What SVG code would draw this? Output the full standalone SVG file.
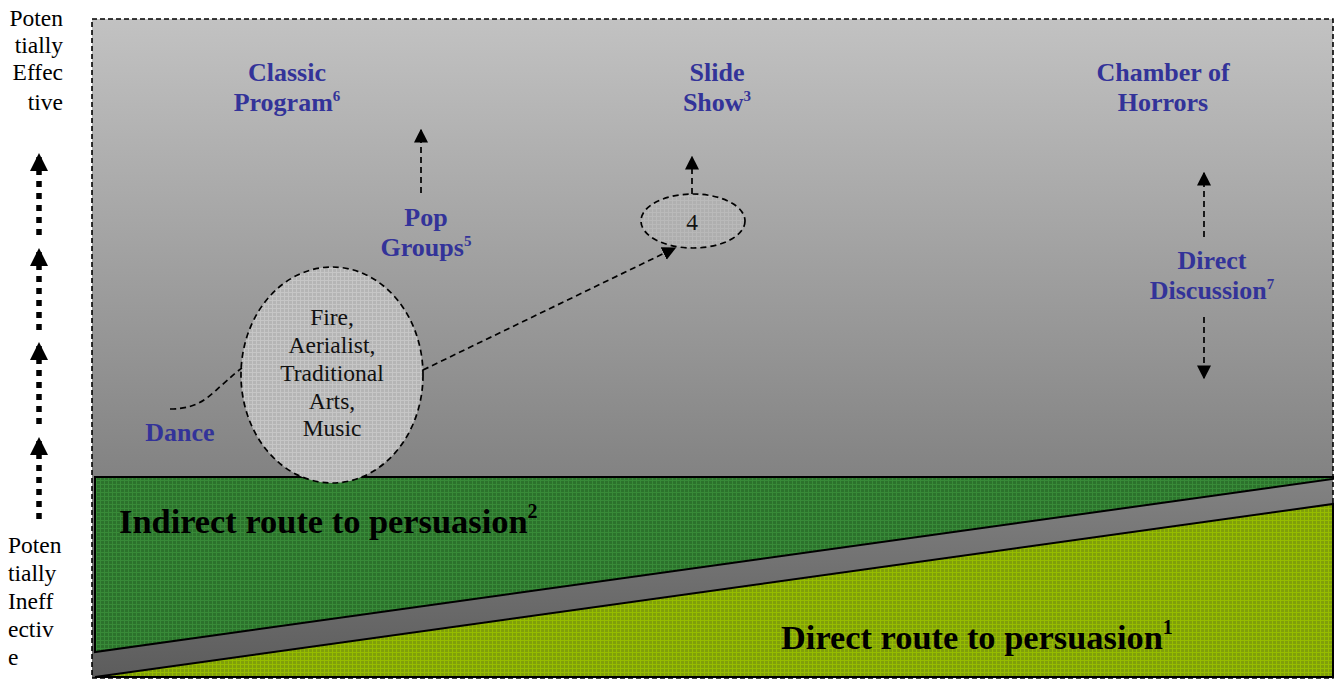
<svg xmlns="http://www.w3.org/2000/svg" width="1337" height="679" viewBox="0 0 1337 679">
<style>
text{font-family:"Liberation Serif","Tinos","DejaVu Serif",serif}
.lbl{font-weight:bold;font-size:26px;fill:#333399;text-anchor:middle}
.side{font-size:23.5px;fill:#000}
.node{font-size:23.5px;fill:#111;text-anchor:middle}
.big{font-weight:bold;font-size:34.4px;fill:#000}
.dash{fill:none;stroke:#000;stroke-width:1.7;stroke-dasharray:6,4}
.dot{fill:none;stroke:#000;stroke-width:5.5;stroke-dasharray:6,6}
</style>
<defs>
<linearGradient id="bg" x1="0" y1="0" x2="0" y2="1">
<stop offset="0" stop-color="#c2c2c2"/>
<stop offset="0.7" stop-color="#828282"/>
<stop offset="1" stop-color="#5c5c5c"/>
</linearGradient>
<pattern id="gridG" width="4" height="4" patternUnits="userSpaceOnUse">
<rect width="4" height="4" fill="#2c722c"/>
<path d="M0 0.5H4M0.5 0V4" stroke="#388a38" stroke-width="1"/>
</pattern>
<pattern id="gridY" width="4" height="4" patternUnits="userSpaceOnUse">
<rect width="4" height="4" fill="#809f0a"/>
<path d="M0 0.5H4M0.5 0V4" stroke="#96bc00" stroke-width="1"/>
</pattern>
<pattern id="gridE" width="4" height="4" patternUnits="userSpaceOnUse">
<rect width="4" height="4" fill="#b5b5b5"/>
<path d="M0 0.5H4M0.5 0V4" stroke="#c6c6c6" stroke-width="1"/>
</pattern>
<marker id="ah2" viewBox="0 0 10 10" refX="9" refY="5" markerWidth="14" markerHeight="16" markerUnits="userSpaceOnUse" orient="auto">
<path d="M0 0L10 5L0 10z" fill="#000"/>
</marker>
<marker id="ah3" viewBox="0 0 10 10" refX="10" refY="5" markerWidth="19" markerHeight="18" markerUnits="userSpaceOnUse" orient="auto">
<path d="M0 0L10 5L0 10z" fill="#000"/>
</marker>
</defs>

<g id="background">
<rect x="92" y="19" width="1241" height="659" fill="url(#bg)"/>
</g>

<g id="indirect-route">
<polygon points="95,477 1333,477 1333,479 95,652" fill="url(#gridG)" stroke="#000" stroke-width="2"/>
<text class="big" x="119" y="533">Indirect route to persuasion<tspan font-size="20" dy="-15">2</tspan></text>
</g>

<g id="direct-route">
<polygon points="95,677 1333,504 1333,677" fill="url(#gridY)" stroke="#000" stroke-width="2"/>
<text class="big" x="781" y="649">Direct route to persuasion<tspan font-size="20" dy="-15">1</tspan></text>
</g>

<g id="frame">
<rect x="92" y="19" width="1241" height="659" fill="none" stroke="#000" stroke-width="1.6" stroke-dasharray="5,3"/>
</g>

<g id="scale-top">
<text class="side" text-anchor="end" x="63" y="26">Poten</text>
<text class="side" text-anchor="end" x="63" y="53">tially</text>
<text class="side" text-anchor="end" x="63" y="80">Effec</text>
<text class="side" text-anchor="end" x="63" y="110">tive</text>
</g>
<g id="scale-bottom">
<text class="side" x="8" y="553">Poten</text>
<text class="side" x="8" y="581">tially</text>
<text class="side" x="8" y="609">Ineff</text>
<text class="side" x="8" y="637">ectiv</text>
<text class="side" x="8" y="665">e</text>
</g>

<g id="cluster">
<ellipse cx="332" cy="375" rx="91" ry="108" class="dash" style="fill:url(#gridE)"/>
<text class="node" x="332" y="325">Fire,</text>
<text class="node" x="332" y="353">Aerialist,</text>
<text class="node" x="332" y="381">Traditional</text>
<text class="node" x="332" y="409">Arts,</text>
<text class="node" x="332" y="436">Music</text>
</g>

<g id="node4">
<ellipse cx="693" cy="221" rx="52" ry="27" class="dash" style="fill:url(#gridE);fill-opacity:0.6"/>
<text class="node" x="692" y="230">4</text>
</g>

<g id="dance"><text class="lbl" x="180" y="441">Dance</text></g>
<g id="classic"><text class="lbl" x="287" y="81">Classic</text><text class="lbl" x="287" y="111">Program<tspan font-size="15" dy="-10">6</tspan></text></g>
<g id="slide"><text class="lbl" x="717" y="81">Slide</text><text class="lbl" x="717" y="111">Show<tspan font-size="15" dy="-10">3</tspan></text></g>
<g id="chamber"><text class="lbl" x="1163" y="81">Chamber of</text><text class="lbl" x="1163" y="111">Horrors</text></g>
<g id="pop"><text class="lbl" x="426" y="226">Pop</text><text class="lbl" x="426" y="256">Groups<tspan font-size="15" dy="-10">5</tspan></text></g>
<g id="direct"><text class="lbl" x="1212" y="269">Direct</text><text class="lbl" x="1212" y="299">Discussion<tspan font-size="15" dy="-10">7</tspan></text></g>

<g id="connectors">
<path class="dash" d="M170 409 C200 409 210 395 222 385 C230 378 236 372 242 368"/>
<path class="dash" d="M423 370 L675 248" marker-end="url(#ah2)"/>
<path class="dash" d="M692 194 L692 157" marker-end="url(#ah2)"/>
<path class="dash" d="M421 193 L421 130" marker-end="url(#ah2)"/>
<path class="dash" d="M1204 237 L1204 173" marker-end="url(#ah2)"/>
<path class="dash" d="M1204 317 L1204 378" marker-end="url(#ah2)"/>
<path class="dot" d="M39 235 L39 153" marker-end="url(#ah3)"/>
<path class="dot" d="M39 330 L39 248" marker-end="url(#ah3)"/>
<path class="dot" d="M39 424 L39 342" marker-end="url(#ah3)"/>
<path class="dot" d="M39 519 L39 437" marker-end="url(#ah3)"/>
</g>
</svg>
